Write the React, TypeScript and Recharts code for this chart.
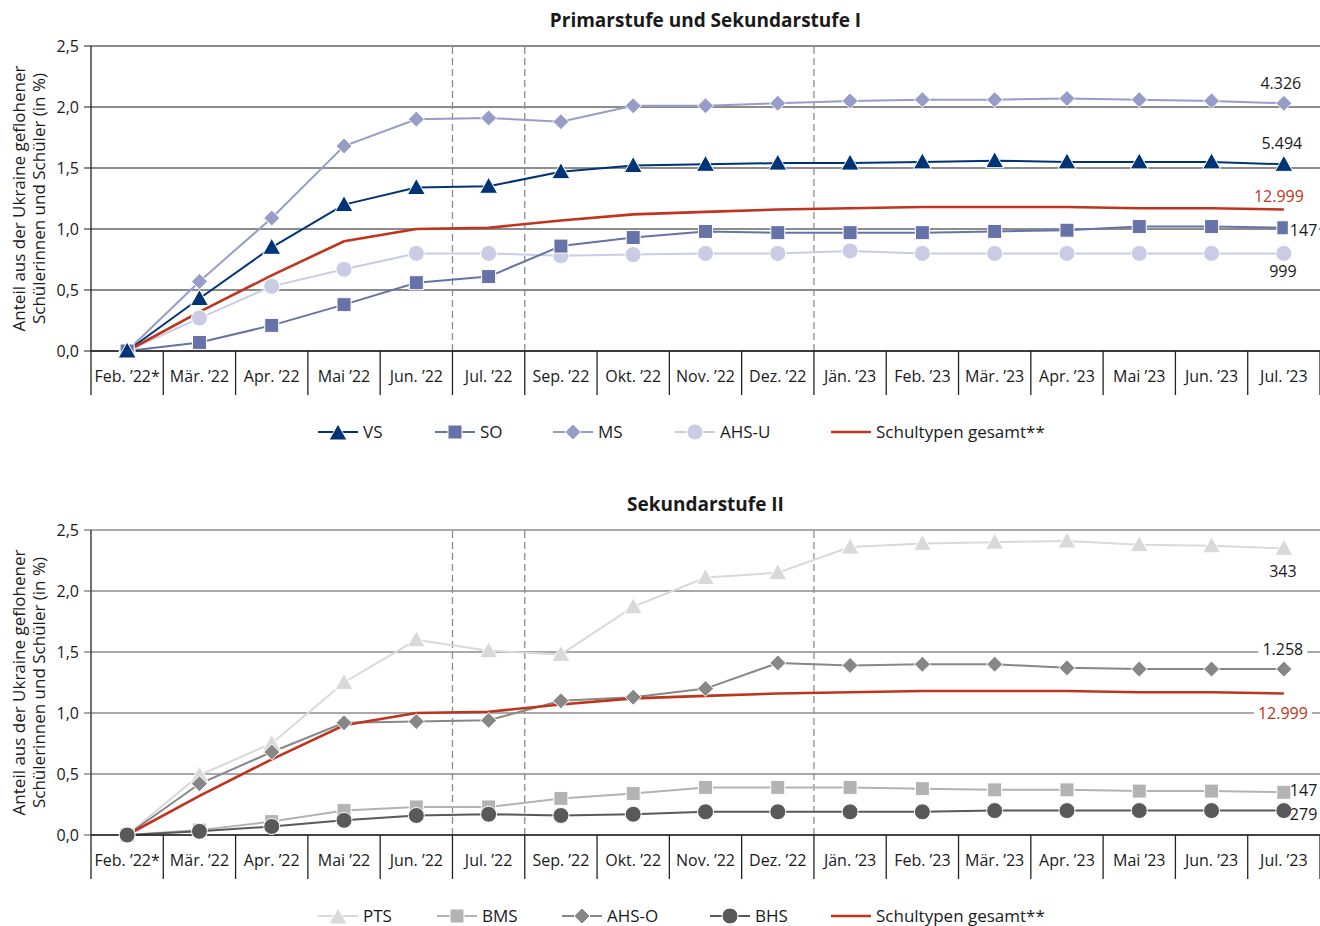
import React from 'react'
import {
  LineChart,
  Line,
  XAxis,
  YAxis,
  CartesianGrid,
  ReferenceLine,
} from 'recharts'

const months = [
  'Feb. ’22*', 'Mär. ’22', 'Apr. ’22', 'Mai ’22', 'Jun. ’22', 'Jul. ’22', 'Sep. ’22', 'Okt. ’22',
  'Nov. ’22', 'Dez. ’22', 'Jän. ’23', 'Feb. ’23', 'Mär. ’23', 'Apr. ’23', 'Mai ’23', 'Jun. ’23', 'Jul. ’23',
]
const yTicks = [0, 0.5, 1, 1.5, 2, 2.5]
const breakPositions = [4.5, 5.5, 9.5]

// Primarstufe und Sekundarstufe I
const vsValues = [0, 0.43, 0.85, 1.2, 1.34, 1.35, 1.47, 1.52, 1.53, 1.54, 1.54, 1.55, 1.56, 1.55, 1.55, 1.55, 1.53]
const soValues = [0, 0.07, 0.21, 0.38, 0.56, 0.61, 0.86, 0.93, 0.98, 0.97, 0.97, 0.97, 0.98, 0.99, 1.02, 1.02, 1.01]
const msValues = [0, 0.57, 1.09, 1.68, 1.9, 1.91, 1.88, 2.01, 2.01, 2.03, 2.05, 2.06, 2.06, 2.07, 2.06, 2.05, 2.03]
const ahsuValues = [0, 0.27, 0.53, 0.67, 0.8, 0.8, 0.78, 0.79, 0.8, 0.8, 0.82, 0.8, 0.8, 0.8, 0.8, 0.8, 0.8]
const totalValues = [0, 0.32, 0.62, 0.9, 1.0, 1.01, 1.07, 1.12, 1.14, 1.16, 1.17, 1.18, 1.18, 1.18, 1.17, 1.17, 1.16]

// Sekundarstufe II
const ptsValues = [0, 0.49, 0.75, 1.25, 1.6, 1.51, 1.48, 1.87, 2.11, 2.15, 2.36, 2.39, 2.4, 2.41, 2.38, 2.37, 2.35]
const bmsValues = [0, 0.04, 0.11, 0.2, 0.23, 0.23, 0.3, 0.34, 0.39, 0.39, 0.39, 0.38, 0.37, 0.37, 0.36, 0.36, 0.35]
const ahsoValues = [0, 0.42, 0.68, 0.92, 0.93, 0.94, 1.1, 1.13, 1.2, 1.41, 1.39, 1.4, 1.4, 1.37, 1.36, 1.36, 1.36]
const bhsValues = [0, 0.03, 0.07, 0.12, 0.16, 0.17, 0.16, 0.17, 0.19, 0.19, 0.19, 0.19, 0.2, 0.2, 0.2, 0.2, 0.2]

const RED = '#c0341d'
const FONT = '"Open Sans", Lato, sans-serif'
const CHART_W = 1312
const Y_AXIS_W = 83
const HALF_BAND = (CHART_W - Y_AXIS_W) / months.length / 2
const LAST = months.length - 1

if (typeof document !== 'undefined') {
  document.body.style.margin = '0'
  document.body.style.overflow = 'hidden'
}

type Shape = 'triangle' | 'square' | 'diamond' | 'circle' | 'none'

interface EndLabelCfg {
  text: string
  dx: number
  dy: number
  anchor: 'start' | 'middle'
  color?: string
  bg?: boolean
}

interface Series {
  key: string
  name: string
  values: number[]
  color: string
  shape: Shape
  width?: number
  end: EndLabelCfg
}

const topSeries: Series[] = [
  { key: 'ms', name: 'MS', values: msValues, color: '#959dc8', shape: 'diamond', end: { text: '4.326', dx: -3, dy: -20, anchor: 'middle' } },
  { key: 'ahsu', name: 'AHS-U', values: ahsuValues, color: '#c9cce4', shape: 'circle', end: { text: '999', dx: -1, dy: 18, anchor: 'middle' } },
  { key: 'so', name: 'SO', values: soValues, color: '#6673a8', shape: 'square', end: { text: '147', dx: 6, dy: 2, anchor: 'start', bg: true } },
  { key: 'vs', name: 'VS', values: vsValues, color: '#003476', shape: 'triangle', end: { text: '5.494', dx: -2, dy: -21, anchor: 'middle' } },
  { key: 'total', name: 'Schultypen gesamt**', values: totalValues, color: RED, shape: 'none', width: 2.6, end: { text: '12.999', dx: -5, dy: -13, anchor: 'middle', color: RED } },
]
const topLegend = ['vs', 'so', 'ms', 'ahsu', 'total']
const topLegendLefts = [310, 427, 545, 667, 823]

const bottomSeries: Series[] = [
  { key: 'pts', name: 'PTS', values: ptsValues, color: '#d9d9d9', shape: 'triangle', end: { text: '343', dx: -1, dy: 23, anchor: 'middle' } },
  { key: 'bms', name: 'BMS', values: bmsValues, color: '#b3b3b3', shape: 'square', end: { text: '147', dx: 6, dy: -2, anchor: 'start' } },
  { key: 'ahso', name: 'AHS-O', values: ahsoValues, color: '#878787', shape: 'diamond', end: { text: '1.258', dx: -1, dy: -20, anchor: 'middle', bg: true } },
  { key: 'bhs', name: 'BHS', values: bhsValues, color: '#595959', shape: 'circle', end: { text: '279', dx: 6, dy: 3, anchor: 'start' } },
  { key: 'total', name: 'Schultypen gesamt**', values: totalValues, color: RED, shape: 'none', width: 2.6, end: { text: '12.999', dx: -1, dy: 20, anchor: 'middle', color: RED, bg: true } },
]
const bottomLegend = ['pts', 'bms', 'ahso', 'bhs', 'total']
const bottomLegendLefts = [310, 429, 554, 702, 823]

function Marker({ shape, cx, cy, fill }: { shape: Shape; cx: number; cy: number; fill: string }) {
  if (shape === 'none' || cx == null || cy == null) return null
  const common = { fill, stroke: '#fff', strokeWidth: 1 }
  if (shape === 'triangle') {
    return <polygon points={`${cx},${cy - 9} ${cx + 9},${cy + 7} ${cx - 9},${cy + 7}`} {...common} />
  }
  if (shape === 'square') return <rect x={cx - 7} y={cy - 7} width={14} height={14} {...common} />
  if (shape === 'diamond') {
    return <polygon points={`${cx},${cy - 8} ${cx + 8},${cy} ${cx},${cy + 8} ${cx - 8},${cy}`} {...common} />
  }
  return <circle cx={cx} cy={cy} r={8} {...common} />
}

function EndLabel({ x, y, cfg }: { x: number; y: number; cfg: EndLabelCfg }) {
  const tx = x + cfg.dx
  const ty = y + cfg.dy
  const w = cfg.text.length * 9 + 4
  const left = cfg.anchor === 'middle' ? tx - w / 2 : tx - 2
  return (
    <g>
      {cfg.bg && <rect x={left} y={ty - 10} width={w} height={20} fill="#fff" />}
      <text
        x={tx}
        y={ty}
        textAnchor={cfg.anchor}
        dominantBaseline="central"
        fontSize={16}
        fontFamily={FONT}
        fill={cfg.color || '#1a1a1a'}
      >
        {cfg.text}
      </text>
    </g>
  )
}

const XTick = (props: any) => {
  const { x, y, payload } = props
  const i = payload.value as number
  return (
    <g>
      <line x1={x - HALF_BAND} x2={x - HALF_BAND} y1={y} y2={y + 44} stroke="#222" strokeWidth={1.3} />
      {i === LAST && <line x1={x + HALF_BAND} x2={x + HALF_BAND} y1={y} y2={y + 44} stroke="#222" strokeWidth={1.3} />}
      <text x={x} y={y + 25} textAnchor="middle" dominantBaseline="central" fontSize={16} fontFamily={FONT} fill="#1a1a1a">
        {months[i]}
      </text>
    </g>
  )
}

const YTitle = (props: any) => {
  const vb = props.viewBox || {}
  const cy = (vb.y || 0) + (vb.height || 0) / 2
  const lines = ['Anteil aus der Ukraine geflohener', 'Schülerinnen und Schüler (in %)']
  return (
    <g>
      {lines.map((t, k) => {
        const lx = 10 + k * 20
        return (
          <text
            key={k}
            x={lx}
            y={cy}
            transform={`rotate(-90 ${lx} ${cy})`}
            textAnchor="middle"
            dominantBaseline="central"
            fontSize={17}
            fontFamily={FONT}
            fill="#1a1a1a"
          >
            {t}
          </text>
        )
      })}
    </g>
  )
}

function LegendIcon({ s }: { s: Series }) {
  return (
    <svg width={40} height={18} style={{ display: 'block' }}>
      <line x1={0} x2={40} y1={9} y2={9} stroke={s.color} strokeWidth={s.shape === 'none' ? 2.6 : 2} />
      <Marker shape={s.shape} cx={20} cy={s.shape === 'triangle' ? 10 : 9} fill={s.color} />
    </svg>
  )
}

function Legend({ series, order, lefts, top }: { series: Series[]; order: string[]; lefts: number[]; top: number }) {
  return (
    <div style={{ position: 'absolute', top, left: 0, width: CHART_W, height: 22, fontFamily: FONT, fontSize: 17, color: '#1a1a1a', lineHeight: '22px' }}>
      {order.map((k, idx) => {
        const s = series.find((it) => it.key === k)!
        return (
          <div key={k} style={{ position: 'absolute', left: lefts[idx], top: 0, display: 'flex', alignItems: 'center', gap: 5, whiteSpace: 'nowrap' }}>
            <LegendIcon s={s} />
            <span>{s.name}</span>
          </div>
        )
      })}
    </div>
  )
}

function Panel({ title, series, top, gridColor }: { title: string; series: Series[]; top: number; gridColor: string }) {
  const rows = months.map((m, i) => {
    const row: Record<string, number | string> = { i, month: m }
    series.forEach((s) => {
      row[s.key] = s.values[i]
    })
    return row
  })
  return (
    <div style={{ position: 'absolute', top, left: 0, width: CHART_W, height: 400 }}>
      <div
        style={{
          position: 'absolute',
          top: 1,
          left: Y_AXIS_W,
          width: CHART_W - Y_AXIS_W,
          textAlign: 'center',
          fontFamily: FONT,
          fontWeight: 700,
          fontSize: 19,
          lineHeight: '22px',
          color: '#1a1a1a',
        }}
      >
        {title}
      </div>
      <LineChart
        width={CHART_W}
        height={393}
        data={rows}
        margin={{ top: 38, right: 0, left: 0, bottom: 0 }}
        style={{ position: 'absolute', top: 0, left: 0 }}
      >
        <CartesianGrid horizontal vertical={false} stroke={gridColor} strokeWidth={1.2} />
        <XAxis
          type="number"
          dataKey="i"
          domain={[-0.5, LAST + 0.5]}
          ticks={months.map((_, i) => i)}
          interval={0}
          tickSize={0}
          tickMargin={0}
          height={50}
          axisLine={{ stroke: '#222', strokeWidth: 1.3 }}
          tickLine={false}
          tick={<XTick />}
        />
        <YAxis
          width={Y_AXIS_W}
          domain={[0, 2.5]}
          ticks={yTicks}
          interval={0}
          tickSize={7}
          tickMargin={5}
          axisLine={{ stroke: '#222', strokeWidth: 1.3 }}
          tickLine={{ stroke: gridColor }}
          tick={{ fontSize: 16, fontFamily: FONT, fill: '#1a1a1a' }}
          tickFormatter={(v: number) => v.toFixed(1).replace('.', ',')}
          label={{ content: (p: any) => <YTitle {...p} /> }}
        />
        {breakPositions.map((p) => (
          <ReferenceLine key={p} x={p} stroke="#8c8c8c" strokeWidth={1.3} strokeDasharray="7 4" />
        ))}
        {series.map((s) => (
          <Line
            key={s.key}
            type="linear"
            dataKey={s.key}
            name={s.name}
            stroke={s.color}
            strokeWidth={s.width || 2}
            isAnimationActive={false}
            activeDot={false}
            dot={(p: any) => <Marker key={`${s.key}-${p.index}`} shape={s.shape} cx={p.cx} cy={p.cy} fill={s.color} />}
            label={(p: any) =>
              p.index === LAST ? <EndLabel key={`${s.key}-lbl`} x={p.x} y={p.y} cfg={s.end} /> : <g key={`${s.key}-l${p.index}`} />
            }
          />
        ))}
      </LineChart>
    </div>
  )
}

export default function App() {
  return (
    <div style={{ width: 1320, height: 926, background: '#fff', overflow: 'hidden', position: 'relative' }}>
      <div style={{ position: 'absolute', left: 8, top: 8, width: CHART_W, height: 918 }}>
        <Panel title="Primarstufe und Sekundarstufe I" series={topSeries} top={0} gridColor="#1a1a1a" />
        <Legend series={topSeries} order={topLegend} lefts={topLegendLefts} top={413} />
        <Panel title="Sekundarstufe II" series={bottomSeries} top={484} gridColor="#555" />
        <Legend series={bottomSeries} order={bottomLegend} lefts={bottomLegendLefts} top={897} />
      </div>
    </div>
  )
}
